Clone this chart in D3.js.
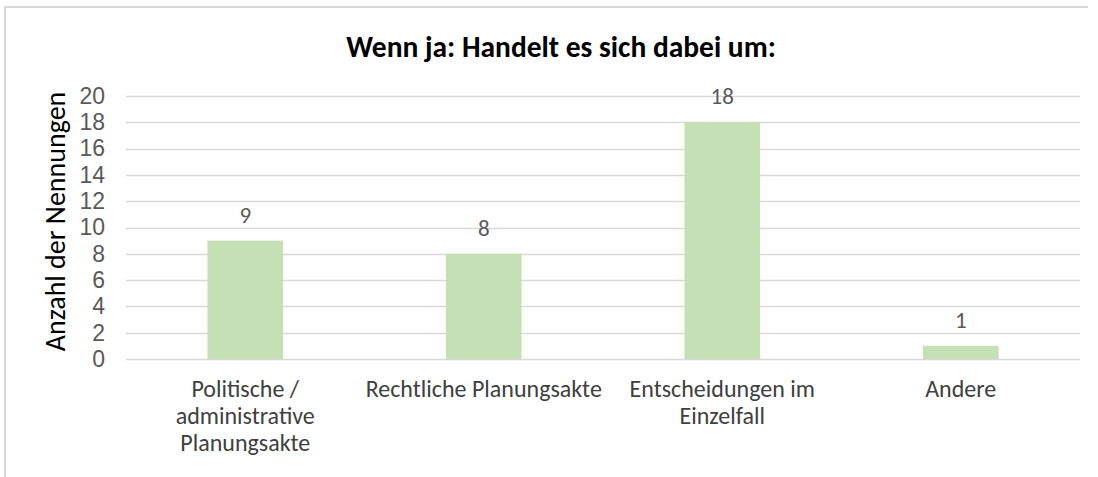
<!DOCTYPE html>
<html lang="de">
<head>
    <meta charset="UTF-8">
    <title>Wenn ja: Handelt es sich dabei um</title>
    <style>
        html, body {
            margin: 0;
            padding: 0;
            background: #fff;
        }
        svg {
            display: block;
            font-family: Carlito, "Open Sans", "Noto Sans", sans-serif;
        }
    </style>
</head>
<body>
    <div id="chart"></div>

    <script src="https://d3js.org/d3.v7.min.js"></script>
    <script>
        // Daten aus dem Diagramm
        const categories = [
            ['Politische /', 'administrative', 'Planungsakte'],
            ['Rechtliche Planungsakte'],
            ['Entscheidungen im', 'Einzelfall'],
            ['Andere']
        ]
        const values = [9, 8, 18, 1]
        const yTicks = [0, 2, 4, 6, 8, 10, 12, 14, 16, 18, 20]
        const title = 'Wenn ja: Handelt es sich dabei um:'
        const yTitle = 'Anzahl der Nennungen'

        const width = 1098
        const height = 477
        const margin = { left: 126, right: 18, top: 96, bottom: 118 }
        const barColor = '#c5e0b4'
        const gridColor = '#d9d9d9'
        const tickColor = '#595959'
        const labelColor = '#404040'

        const svg = d3.select('#chart')
            .append('svg')
            .attr('width', width)
            .attr('height', height)

        // Rahmen (nur oben und links sichtbar)
        svg.append('path')
            .attr('d', `M5,${height + 5} V7 H1088`)
            .attr('fill', 'none')
            .attr('stroke', gridColor)
            .attr('stroke-width', 2)

        const keys = categories.map((c, i) => i)

        const x = d3.scaleBand()
            .domain(keys)
            .range([margin.left, width - margin.right])
            .paddingInner(0.683)
            .paddingOuter(0.3415)

        const y = d3.scaleLinear()
            .domain([0, 20])
            .range([height - margin.bottom, margin.top])

        // Gitterlinien
        svg.append('g')
            .selectAll('line')
            .data(yTicks)
            .join('line')
            .attr('x1', margin.left)
            .attr('x2', width - margin.right)
            .attr('y1', d => Math.round(y(d)) + 0.5)
            .attr('y2', d => Math.round(y(d)) + 0.5)
            .attr('stroke', gridColor)
            .attr('stroke-width', 1.3)

        // y-Achse
        const yAxis = d3.axisLeft(y)
            .tickValues(yTicks)
            .tickSize(0)
            .tickPadding(21)

        svg.append('g')
            .attr('transform', `translate(${margin.left}, 0)`)
            .call(yAxis)
            .call(g => g.select('.domain').remove())
            .call(g => g.selectAll('text')
                .attr('fill', tickColor)
                .style('font-family', null)
                .style('font-size', '23px'))

        // Balken
        svg.append('g')
            .selectAll('rect')
            .data(values)
            .join('rect')
            .attr('x', (d, i) => x(i))
            .attr('width', x.bandwidth())
            .attr('y', d => y(d))
            .attr('height', d => y(0) - y(d))
            .attr('fill', barColor)

        // Datenbeschriftungen
        svg.append('g')
            .selectAll('text')
            .data(values)
            .join('text')
            .attr('x', (d, i) => x(i) + x.bandwidth() / 2)
            .attr('y', d => y(d) - 18)
            .attr('text-anchor', 'middle')
            .attr('fill', tickColor)
            .style('font-size', '23px')
            .text(d => d)

        // x-Achse Beschriftungen
        const xLabels = svg.append('g')
            .selectAll('text')
            .data(categories)
            .join('text')
            .attr('x', (d, i) => x(i) + x.bandwidth() / 2)
            .attr('y', y(0) + 38)
            .attr('text-anchor', 'middle')
            .attr('fill', labelColor)
            .style('font-size', '24px')

        xLabels.selectAll('tspan')
            .data(d => d)
            .join('tspan')
            .attr('x', function () { return this.parentNode.getAttribute('x') })
            .attr('dy', (d, i) => i === 0 ? 0 : 27)
            .text(d => d)

        // Achsentitel
        svg.append('text')
            .attr('transform', `translate(65, ${(y(0) + y(20)) / 2 - 6}) rotate(-90)`)
            .attr('text-anchor', 'middle')
            .attr('fill', '#000')
            .style('font-size', '28px')
            .text(yTitle)

        // Titel
        svg.append('text')
            .attr('x', 561)
            .attr('y', 57)
            .attr('text-anchor', 'middle')
            .attr('fill', '#000')
            .style('font-size', '29.5px')
            .style('font-weight', 'bold')
            .text(title)
    </script>
</body>
</html>
